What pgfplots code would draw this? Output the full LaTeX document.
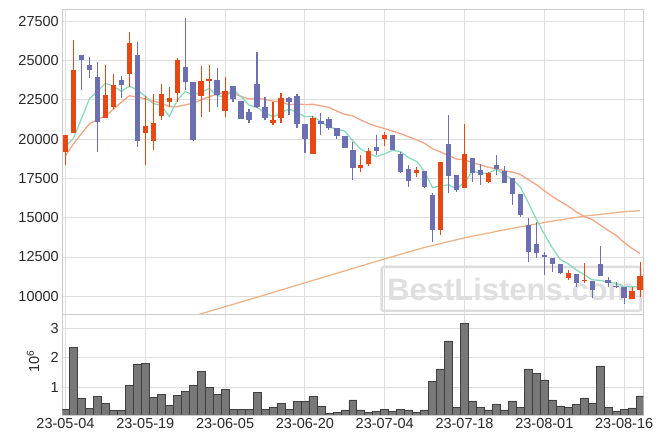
\documentclass[border=0pt]{standalone}
\usepackage{fontspec}
\setmainfont{Liberation Sans}
\usepackage{pgfplots}
\usepackage{pgfplotstable}
\pgfplotsset{compat=1.18}
\definecolor{upc}{RGB}{230,72,20}
\definecolor{dnc}{RGB}{108,112,176}
\definecolor{ma5c}{RGB}{140,218,190}
\definecolor{ma20c}{RGB}{242,165,135}
\definecolor{malc}{RGB}{238,180,135}
\definecolor{gridc}{RGB}{221,221,221}
\definecolor{framec}{RGB}{204,204,204}
\definecolor{volc}{RGB}{120,120,120}
\definecolor{txtc}{RGB}{40,40,40}

\pgfplotstableread{
i o h l c
0 19200 20270 18360 20270
1 20410 26310 20410 24400
5 21370 24720 21370 22810
6 22070 24130 21900 23390
8 24130 26800 23340 26100
10 20410 22750 18360 20840
11 19900 22860 19310 21010
12 21500 23490 21220 22880
13 22390 23300 22070 22600
14 22920 25150 22390 25040
17 22770 24660 21390 23700
18 23700 24720 21750 23830
20 21810 23980 21390 23020
26 21050 22350 20900 21220
27 21330 22920 21010 22600
31 19040 21480 19040 21330
37 18190 18990 17930 18360
38 18400 19420 18290 19250
40 19990 20440 19570 20270
44 17870 18250 17580 18040
47 14220 18530 13900 18530
50 16880 20950 16880 19060
53 17300 17930 17190 17790
63 11170 11680 11040 11460
65 10970 12100 10830 11020
71 9810 10610 9810 10340
72 10400 12200 9980 11290
}\up

\pgfplotstableread{
i o h l c
2 25300 25360 23130 25060
3 24720 25250 23880 24400
4 23940 24930 19170 21110
7 23770 24020 22600 23470
9 25300 26210 19520 19900
15 24580 27700 23130 23620
16 23600 23660 19900 19950
19 23770 24510 22070 22810
21 23340 23390 22390 22540
22 22430 22430 21270 21270
23 21690 21900 21050 21220
24 23510 25530 22000 22020
25 22030 22670 21220 21370
28 22600 22700 21540 22390
29 22750 22880 20690 20950
30 20970 20970 19100 19990
32 21160 21690 20270 20950
33 21270 21430 20590 20690
34 20690 20700 19990 20200
35 20200 20200 19420 19420
36 19310 19840 17400 18190
39 19480 20270 18990 19250
41 20270 20270 19310 19310
42 19060 19190 17870 17930
43 18100 18360 16940 17360
45 17930 17930 16910 16980
46 16450 16560 13480 14220
48 19690 21540 16560 17680
49 17720 17720 16660 16770
51 18780 18780 17300 17830
52 18040 18400 17090 17720
54 18360 18990 17720 18080
55 17930 18290 17190 17190
56 17510 17510 15810 16490
57 16490 16490 15070 15180
58 14490 14970 12160 12840
59 13310 14750 12420 12780
60 12630 12840 11360 12520
61 12420 12420 11570 12060
62 12010 12010 11400 11500
64 11420 11420 10610 10870
66 10970 10970 9870 10400
67 12040 13200 11310 11310
68 11040 11250 10610 10830
69 10660 10930 10510 10610
70 10570 10570 9510 9910
}\dn

\pgfplotstableread{
i v
0 19520
1 20060
2 21300
3 22570
4 23048
5 23556
6 23354
7 23036
8 23376
9 23134
10 22740
11 22264
12 22146
13 21446
14 22474
15 23030
16 22818
17 22982
18 23228
19 22782
20 22662
21 23180
22 22694
23 22172
24 22014
25 21684
26 21420
27 21686
28 21920
29 21706
30 21430
31 21452
32 21122
33 20782
34 20632
35 20518
36 19890
37 19372
38 19084
39 18894
40 19064
41 19288
42 19202
43 18824
44 18582
45 17924
46 16906
47 17026
48 17090
49 16836
50 17252
51 17974
52 17812
53 17834
54 18096
55 17722
56 17454
57 16946
58 15956
59 14896
60 13962
61 13076
62 12340
63 12064
64 11682
65 11382
66 11050
67 11012
68 10886
69 10834
70 10612
71 10600
72 10596
}\mafive

\pgfplotstableread{
i v
0 18950
1 19700
2 20350
3 20970
4 21250
5 21480
6 21900
7 22350
8 22760
9 22700
10 22550
11 22420
12 22290
13 22070
14 22070
15 22180
16 22290
17 22500
18 22700
19 22860
20 22997
21 22904
22 22715
23 22556
24 22601
25 22529
26 22421
27 22377
28 22192
29 22244
30 22202
31 22218
32 22121
33 22026
34 21784
35 21574
36 21486
37 21219
38 20990
39 20812
40 20674
41 20513
42 20346
43 20153
44 19954
45 19734
46 19384
47 19181
48 18945
49 18736
50 18690
51 18515
52 18353
53 18208
54 18102
55 17991
56 17906
57 17747
58 17426
59 17103
60 16715
61 16353
62 16031
63 15736
64 15378
65 15080
66 14889
67 14528
68 14185
69 13877
70 13420
71 13045
72 12724
}\matwenty

\pgfplotstableread{
i v
14 8440
20 9340
25 10090
30 10860
35 11620
40 12380
45 13110
50 13720
55 14230
60 14700
65 15100
70 15380
72 15450
}\malong

\pgfplotstableread{
i v
0 0.26
1 2.36
2 0.63
3 0.29
4 0.69
5 0.46
6 0.22
7 0.22
8 1.07
9 1.79
10 1.82
11 0.66
12 0.76
13 0.39
14 0.73
15 0.86
16 1.07
17 1.54
18 1.00
19 0.76
20 0.93
21 0.25
22 0.25
23 0.25
24 0.83
25 0.25
26 0.32
27 0.46
28 0.25
29 0.53
30 0.53
31 0.69
32 0.35
33 0.12
34 0.15
35 0.23
36 0.57
37 0.23
38 0.15
39 0.19
40 0.26
41 0.19
42 0.26
43 0.23
44 0.15
45 0.23
46 1.21
47 1.62
48 2.57
49 0.33
50 3.17
51 0.54
52 0.33
53 0.23
54 0.43
55 0.23
56 0.54
57 0.33
58 1.62
59 1.48
60 1.25
61 0.57
62 0.37
63 0.33
64 0.43
65 0.64
66 0.47
67 1.72
68 0.33
69 0.20
70 0.26
71 0.30
72 0.71
}\vol

\pgfplotsset{
  base/.style={
    scale only axis, width=581pt,
    xmin=-0.4, xmax=72.4,
    xtick={0,10,...,70},
    grid=major,
    grid style={color=gridc, line width=0.9pt},
    axis line style={color=framec, line width=0.9pt},
    major tick length=0pt,
    tick label style={font=\fontsize{14.5}{16}\selectfont, color=txtc},
    scaled y ticks=false,
    /pgf/number format/assume math mode=true,
    /pgf/number format/1000 sep={},
    /pgf/number format/fixed,
    clip=true,
  }
}

\begin{document}
\begin{tikzpicture}
\begin{axis}[base, name=upper, height=305pt,
  ymin=8854, ymax=28264,
  ytick={10000,12500,...,27500},
  xticklabels={},
]
\node[draw=gridc, line width=2.5pt, rounded corners=2pt, minimum width=259pt, minimum height=44pt,
  text=gray!25, font=\fontsize{31}{31}\selectfont\bfseries, inner sep=0pt] at (axis cs:55.85,10465) {BestListens.com};
\addplot[color=malc, line width=1.3pt, forget plot] table[x=i,y=v]{\malong};
\addplot[color=ma20c, line width=1.3pt, forget plot] table[x=i,y=v]{\matwenty};
\addplot[color=ma5c, line width=1.3pt, forget plot] table[x=i,y=v]{\mafive};
% wicks
\addplot[draw=none, forget plot, error bars/.cd, y dir=plus, y explicit, error mark=none,
  error bar style={draw=upc, line width=1.2pt}]
  table[x=i, y=l, y error plus expr=\thisrow{h}-\thisrow{l}]{\up};
\addplot[draw=none, forget plot, error bars/.cd, y dir=plus, y explicit, error mark=none,
  error bar style={draw=dnc, line width=1.2pt}]
  table[x=i, y=l, y error plus expr=\thisrow{h}-\thisrow{l}]{\dn};
% bodies
\addplot[draw=none, forget plot, error bars/.cd, y dir=plus, y explicit, error mark=none,
  error bar style={draw=upc, line width=5.4pt}]
  table[x=i, y=o, y error plus expr=\thisrow{c}-\thisrow{o}+25]{\up};
\addplot[draw=none, forget plot, error bars/.cd, y dir=plus, y explicit, error mark=none,
  error bar style={draw=dnc, line width=5.4pt}]
  table[x=i, y=c, y error plus expr=\thisrow{o}-\thisrow{c}+25]{\dn};
\end{axis}
\begin{axis}[base, name=lower, at={(upper.south west)}, anchor=north west, height=100.7pt,
  ymin=0.06, ymax=3.47,
  ytick={1,2,3},
  xticklabels={23-05-04,23-05-19,23-06-05,23-06-20,23-07-04,23-07-18,23-08-01,23-08-16},
  ylabel={10\textsuperscript{6}},
  ylabel style={at={(axis description cs:-0.0504,0.53)}, anchor=center, font=\fontsize{14.5}{16}\selectfont, color=txtc},
]
\addplot[ybar, bar width=7.98pt, fill=volc, draw=black!75, line width=0.6pt] table[x=i,y=v]{\vol};
\end{axis}
\path ([xshift=-62.3pt,yshift=9.3pt]upper.north west) rectangle ([xshift=19.7pt,yshift=-29pt]lower.south east);
\end{tikzpicture}
\end{document}
